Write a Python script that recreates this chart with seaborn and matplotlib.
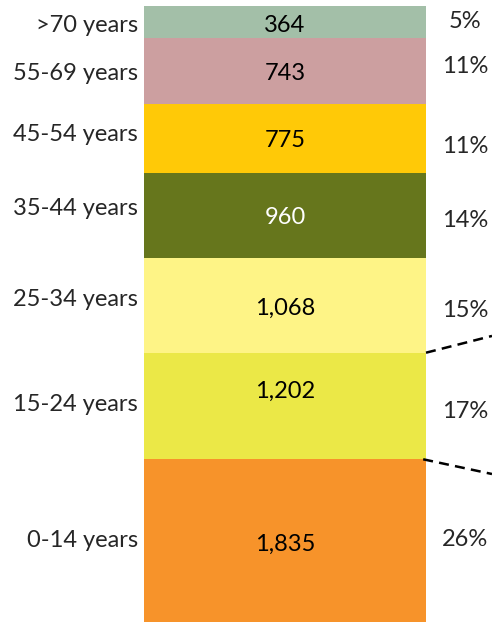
import matplotlib
matplotlib.use('Agg')
import matplotlib.pyplot as plt
import matplotlib.transforms as mtransforms
import seaborn as sns
import numpy as np

# segments from bottom to top
groups = ['0-14 years', '15-24 years', '25-34 years', '35-44 years',
          '45-54 years', '55-69 years', '>70 years']
counts = [1835, 1202, 1068, 960, 775, 743, 364]
colors = ['#F7932A', '#EBE847', '#FEF486', '#66761C',
          '#FFC907', '#CC9FA0', '#A3BFA8']
value_colors = ['black', 'black', 'black', 'white', 'black', 'black', 'black']

# baseline drop (pixels) of the labels relative to the segment middle
left_drop = [6, 4.7, 0.6, -0.5, 2.1, 8.7, 10.1]
value_drop = [10, -7.7, 9.6, 8.8, 8.1, 8.7, 9.5]
pct_drop = [5.3, 12, 11.3, 11.2, 14.1, 2, 6.1]

sns.set_style('white')
plt.rcParams['font.family'] = ['Lato', 'DejaVu Sans']

fig = plt.figure(figsize=(4.92, 6.22), dpi=100)
ax = fig.add_axes([144 / 492, 0, 282 / 492, 616 / 622])

total = sum(counts)
tops = np.cumsum(counts)
bottoms = tops - np.array(counts)

# stacked bar: draw cumulative totals from the top down so each overlays the last
for top, c in reversed(list(zip(tops, colors))):
    sns.barplot(x=['all'], y=[top], color=c, saturation=1, width=1,
                linewidth=0, ax=ax)

ax.set_xlim(-0.5, 0.5)
ax.set_ylim(0, total)
ax.axis('off')

fs = 17
trans = mtransforms.blended_transform_factory(ax.transAxes, ax.transData)
for i, (g, n) in enumerate(zip(groups, counts)):
    mid = bottoms[i] + n / 2
    pct = round(100 * n / total)
    ax.annotate(g, xy=(-0.021, mid), xycoords=trans, xytext=(0, -left_drop[i]),
                textcoords='offset pixels', ha='right', va='baseline',
                fontsize=fs, annotation_clip=False)
    ax.annotate(f'{n:,}', xy=(0.5, mid), xycoords=trans, xytext=(0, -value_drop[i]),
                textcoords='offset pixels', ha='center', va='baseline',
                fontsize=fs, color=value_colors[i])
    ax.annotate(f'{pct}%', xy=(1.138, mid), xycoords=trans, xytext=(0, -pct_drop[i]),
                textcoords='offset pixels', ha='center', va='baseline',
                fontsize=fs, annotation_clip=False)

# dashed connectors leading off to the right
ax.plot([1.0, 1.234], [tops[1], 3226], transform=trans, clip_on=False,
        color='black', lw=1.8, ls=(0, (4, 2.5)))
ax.plot([0.99, 1.234], [tops[0], 1669], transform=trans, clip_on=False,
        color='black', lw=1.8, ls=(0, (4, 2.5)))

fig.savefig('out.png', dpi=100)
